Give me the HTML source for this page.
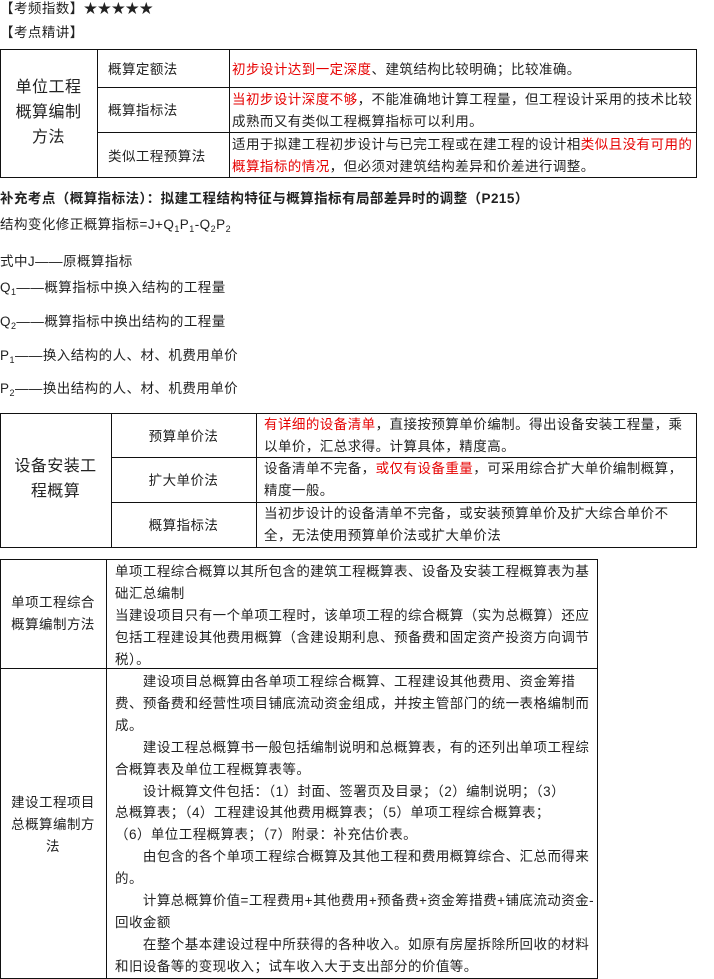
<!DOCTYPE html>
<html><head><meta charset="utf-8"><style>
body{margin:0;width:714px;height:979px;position:relative;background:#fff;font-family:"Liberation Sans","Noto Sans CJK SC",sans-serif;color:#222;overflow:hidden}
.t{position:absolute;font-size:13.5px;line-height:22px;white-space:nowrap;letter-spacing:0.45px}
.b{position:absolute;border:1px solid #111;box-sizing:border-box}
.h{position:absolute;background:#111;height:1px}
.v{position:absolute;background:#111;width:1px}
.r{color:#e60000}
.c{text-align:center}
sub{font-size:9px;vertical-align:-3px;line-height:0}
</style></head><body>
<div class="t" style="left:0;top:-2px">【考频指数】★★★★★</div>
<div class="t" style="left:0;top:22px">【考点精讲】</div>

<!-- table 1 -->
<div class="b" style="left:0;top:49px;width:697px;height:129px"></div>
<div class="v" style="left:97px;top:49px;height:129px"></div>
<div class="v" style="left:229px;top:49px;height:129px"></div>
<div class="h" style="left:97px;top:87px;width:600px"></div>
<div class="h" style="left:97px;top:132px;width:600px"></div>
<div class="t c" style="left:0;width:97px;top:75px;font-size:16px;line-height:25px">单位工程<br>概算编制<br>方法</div>
<div class="t" style="left:108px;top:59px">概算定额法</div>
<div class="t" style="left:108px;top:100px">概算指标法</div>
<div class="t" style="left:108px;top:146px">类似工程预算法</div>
<div class="t" style="left:232px;top:59px"><span class="r">初步设计达到一定深度</span>、建筑结构比较明确；比较准确。</div>
<div class="t" style="left:232px;top:89px"><span class="r">当初步设计深度不够</span>，不能准确地计算工程量，但工程设计采用的技术比较<br>成熟而又有类似工程概算指标可以利用。</div>
<div class="t" style="left:232px;top:134px">适用于拟建工程初步设计与已完工程或在建工程的设计相<span class="r">类似且没有可用的</span><br><span class="r">概算指标的情况</span>，但必须对建筑结构差异和价差进行调整。</div>

<div class="t" style="left:0;top:188px;font-weight:bold">补充考点（概算指标法）：拟建工程结构特征与概算指标有局部差异时的调整（P215）</div>
<div class="t" style="left:0;top:214px">结构变化修正概算指标=J+Q<sub>1</sub>P<sub>1</sub>-Q<sub>2</sub>P<sub>2</sub></div>
<div class="t" style="left:0;top:251px">式中J——原概算指标</div>
<div class="t" style="left:0;top:277px">Q<sub>1</sub>——概算指标中换入结构的工程量</div>
<div class="t" style="left:0;top:311px">Q<sub>2</sub>——概算指标中换出结构的工程量</div>
<div class="t" style="left:0;top:345px">P<sub>1</sub>——换入结构的人、材、机费用单价</div>
<div class="t" style="left:0;top:378px">P<sub>2</sub>——换出结构的人、材、机费用单价</div>

<!-- table 2 -->
<div class="b" style="left:0;top:413px;width:697px;height:135px"></div>
<div class="v" style="left:111px;top:413px;height:135px"></div>
<div class="v" style="left:256px;top:413px;height:135px"></div>
<div class="h" style="left:111px;top:457px;width:586px"></div>
<div class="h" style="left:111px;top:502px;width:586px"></div>
<div class="t c" style="left:0;width:111px;top:454px;font-size:16px;line-height:25px">设备安装工<br>程概算</div>
<div class="t c" style="left:111px;width:145px;top:426px">预算单价法</div>
<div class="t c" style="left:111px;width:145px;top:470px">扩大单价法</div>
<div class="t c" style="left:111px;width:145px;top:515px">概算指标法</div>
<div class="t" style="left:264px;top:414px"><span class="r">有详细的设备清单</span>，直接按预算单价编制。得出设备安装工程量，乘<br>以单价，汇总求得。计算具体，精度高。</div>
<div class="t" style="left:264px;top:458px">设备清单不完备，<span class="r">或仅有设备重量</span>，可采用综合扩大单价编制概算，<br>精度一般。</div>
<div class="t" style="left:264px;top:503px">当初步设计的设备清单不完备，或安装预算单价及扩大综合单价不<br>全，无法使用预算单价法或扩大单价法</div>

<!-- table 3 -->
<div class="b" style="left:0;top:559px;width:598px;height:420px"></div>
<div class="v" style="left:106px;top:559px;height:420px"></div>
<div class="h" style="left:0;top:668px;width:598px"></div>
<div class="t c" style="left:0;width:106px;top:592px">单项工程综合<br>概算编制方法</div>
<div class="t" style="left:115px;top:561px;line-height:21.9px">单项工程综合概算以其所包含的建筑工程概算表、设备及安装工程概算表为基<br>础汇总编制<br>当建设项目只有一个单项工程时，该单项工程的综合概算（实为总概算）还应<br>包括工程建设其他费用概算（含建设期利息、预备费和固定资产投资方向调节<br>税）。</div>
<div class="t c" style="left:0;width:106px;top:792px">建设工程项目<br>总概算编制方<br>法</div>
<div class="t" style="left:115px;top:671px;line-height:21.9px">&emsp;&emsp;建设项目总概算由各单项工程综合概算、工程建设其他费用、资金筹措<br>费、预备费和经营性项目铺底流动资金组成，并按主管部门的统一表格编制而<br>成。<br>&emsp;&emsp;建设工程总概算书一般包括编制说明和总概算表，有的还列出单项工程综<br>合概算表及单位工程概算表等。<br>&emsp;&emsp;设计概算文件包括：（1）封面、签署页及目录；（2）编制说明；（3）<br>总概算表；（4）工程建设其他费用概算表；（5）单项工程综合概算表；<br>（6）单位工程概算表；（7）附录：补充估价表。<br>&emsp;&emsp;由包含的各个单项工程综合概算及其他工程和费用概算综合、汇总而得来<br>的。<br>&emsp;&emsp;计算总概算价值=工程费用+其他费用+预备费+资金筹措费+铺底流动资金-<br>回收金额<br>&emsp;&emsp;在整个基本建设过程中所获得的各种收入。如原有房屋拆除所回收的材料<br>和旧设备等的变现收入；试车收入大于支出部分的价值等。</div>
</body></html>
